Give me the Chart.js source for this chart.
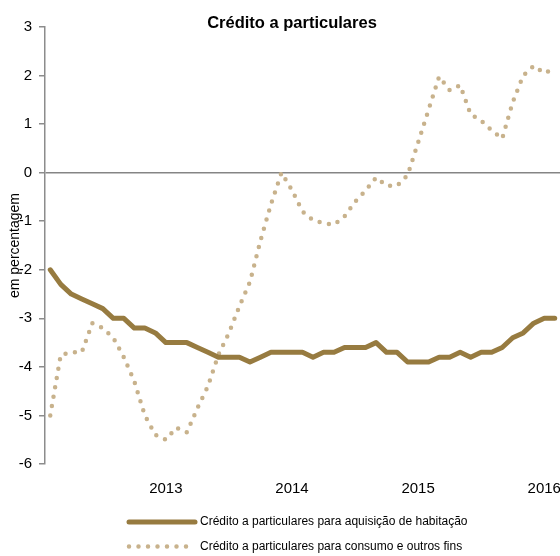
<!DOCTYPE html>
<html>
<head>
<meta charset="utf-8">
<title>Crédito a particulares</title>
<script src="https://cdn.jsdelivr.net/npm/chart.js@4.4.1/dist/chart.umd.min.js"></script>
<style>
  html, body { margin: 0; padding: 0; background: #fff; }
  #grafico { display: block; }
</style>
</head>
<body>
<canvas id="grafico" width="560" height="556"></canvas>
<script>
// meses (fev 2012 - fev 2016)
var meses = [
  '2012-02', '2012-03', '2012-04', '2012-05', '2012-06', '2012-07', '2012-08', '2012-09', '2012-10', '2012-11', '2012-12',
  '2013-01', '2013-02', '2013-03', '2013-04', '2013-05', '2013-06', '2013-07', '2013-08', '2013-09', '2013-10', '2013-11', '2013-12',
  '2014-01', '2014-02', '2014-03', '2014-04', '2014-05', '2014-06', '2014-07', '2014-08', '2014-09', '2014-10', '2014-11', '2014-12',
  '2015-01', '2015-02', '2015-03', '2015-04', '2015-05', '2015-06', '2015-07', '2015-08', '2015-09', '2015-10', '2015-11', '2015-12',
  '2016-01', '2016-02'
];

var habitacao = [
  -2.0, -2.3, -2.5, -2.6, -2.7, -2.8, -3.0, -3.0, -3.2, -3.2, -3.3,
  -3.5, -3.5, -3.5, -3.6, -3.7, -3.8, -3.8, -3.8, -3.9, -3.8, -3.7, -3.7,
  -3.7, -3.7, -3.8, -3.7, -3.7, -3.6, -3.6, -3.6, -3.5, -3.7, -3.7, -3.9,
  -3.9, -3.9, -3.8, -3.8, -3.7, -3.8, -3.7, -3.7, -3.6, -3.4, -3.3, -3.1,
  -3.0, -3.0
];

var consumo = [
  -5.0, -3.75, -3.7, -3.7, -3.1, -3.2, -3.4, -3.8, -4.3, -5.0, -5.4,
  -5.5, -5.25, -5.35, -4.85, -4.4, -3.75, -3.3, -2.75, -2.25, -1.4, -0.65, 0.0,
  -0.36, -0.8, -0.98, -1.04, -1.07, -0.9, -0.6, -0.37, -0.1, -0.27, -0.27, -0.05,
  0.62, 1.3, 1.98, 1.7, 1.8, 1.2, 1.07, 0.87, 0.7, 1.45, 2.0, 2.2,
  2.05, 2.15
];

var nomesSeries = [
  'Crédito a particulares para aquisição de habitação',
  'Crédito a particulares para consumo e outros fins'
];

var titulo = 'Crédito a particulares';
var tituloEixoY = 'em percentagem';

var fonte = "'Liberation Sans', Arial, sans-serif";
Chart.defaults.font.family = fonte;
Chart.defaults.color = '#000';

/* Título e legenda desenhados à mão (posições como no original) */
var tituloPlugin = {
  id: 'tituloPlugin',
  afterDraw: function(chart) {
    var ctx = chart.ctx;
    ctx.save();
    ctx.font = 'bold 16.5px ' + fonte;
    ctx.fillStyle = '#000';
    ctx.textAlign = 'center';
    ctx.textBaseline = 'middle';
    ctx.fillText(titulo, 292, 23);
    ctx.restore();
  }
};

var legendaPlugin = {
  id: 'legendaPlugin',
  afterDraw: function(chart) {
    var ctx = chart.ctx;
    var y0 = 522;
    chart.data.datasets.forEach(function(ds, i) {
      var y = y0 + i * 24.5;
      ctx.save();
      ctx.strokeStyle = ds.borderColor;
      ctx.lineWidth = ds.borderWidth;
      ctx.lineCap = ds.borderCapStyle || 'butt';
      ctx.setLineDash(ds.borderDash || []);
      ctx.beginPath();
      ctx.moveTo(129, y);
      ctx.lineTo(195, y);
      ctx.stroke();
      ctx.setLineDash([]);
      ctx.font = '12px ' + fonte;
      ctx.fillStyle = '#000';
      ctx.textAlign = 'left';
      ctx.textBaseline = 'middle';
      ctx.fillText(ds.label, 200, y);
      ctx.restore();
    });
  }
};

var grafico = new Chart(document.getElementById('grafico'), {
  type: 'line',
  data: {
    labels: meses,
    datasets: [{
      label: nomesSeries[0],
      data: habitacao,
      borderColor: '#977b40',
      borderWidth: 5,
      borderCapStyle: 'round',
      borderJoinStyle: 'round',
      pointRadius: 0,
      tension: 0
    }, {
      label: nomesSeries[1],
      data: consumo,
      borderColor: '#c8b28c',
      borderWidth: 4.5,
      borderDash: [0, 9.5],
      borderCapStyle: 'round',
      borderJoinStyle: 'round',
      pointRadius: 0,
      tension: 0
    }]
  },
  options: {
    responsive: false,
    animation: false,
    devicePixelRatio: 1,
    layout: { padding: { top: 27, right: 0, bottom: 0, left: 0 } },
    plugins: {
      legend: { display: false },
      title: { display: false },
      tooltip: { enabled: false }
    },
    scales: {
      x: {
        offset: true,
        grid: { display: false, drawTicks: false },
        border: { display: false },
        ticks: {
          autoSkip: false,
          maxRotation: 0,
          padding: 16,
          font: { size: 15 },
          callback: function(v) {
            var lab = this.getLabelForValue(v);
            return lab.slice(5) === '01' ? lab.slice(0, 4) : null;
          }
        },
        afterFit: function(scale) {
          scale.height = 92;
          scale.paddingLeft = 0;
          scale.paddingRight = 0;
        }
      },
      y: {
        min: -6,
        max: 3,
        border: { display: true, color: '#8c8c8c', width: 1.5 },
        grid: {
          drawOnChartArea: true,
          drawTicks: true,
          tickLength: 6,
          tickColor: '#8c8c8c',
          lineWidth: 1.5,
          color: function(c) { return c.tick && c.tick.value === 0 ? '#858585' : 'rgba(0,0,0,0)'; }
        },
        ticks: { stepSize: 1, padding: 7, font: { size: 15 } },
        title: {
          display: true,
          text: tituloEixoY,
          font: { size: 14 },
          padding: { top: 7, bottom: 0 }
        },
        afterFit: function(scale) { scale.width = 45; }
      }
    }
  },
  plugins: [tituloPlugin, legendaPlugin]
});
</script>
</body>
</html>
